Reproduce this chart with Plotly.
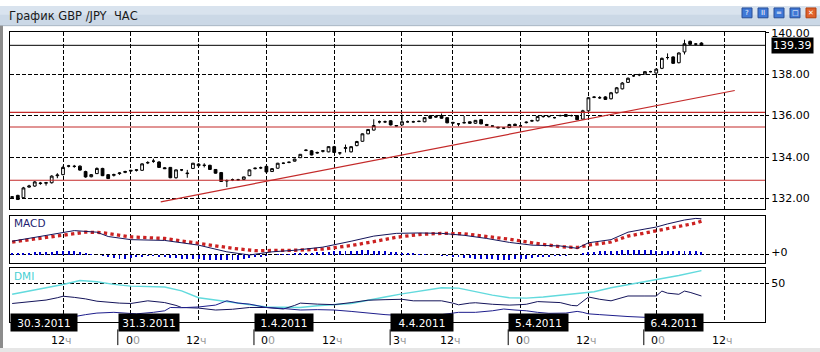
import plotly.graph_objects as go

W, H = 820, 352

# ---------------- data ----------------
bar_index = list(range(123))
open_ = [132.05,132.15,132.04,132.55,132.60,132.72,132.74,132.76,133.10,133.15,
133.56,133.55,133.56,133.30,133.05,133.20,133.45,133.15,133.12,133.20,
133.26,133.36,133.36,133.36,133.72,133.80,133.76,133.48,133.50,133.00,
133.38,133.20,133.45,133.66,133.60,133.60,133.40,133.25,132.85,132.90,
132.90,132.92,133.10,133.44,133.48,133.55,133.30,133.46,133.70,133.74,
133.80,133.97,134.32,134.30,134.22,134.28,134.25,134.50,134.20,134.42,
134.25,134.55,134.76,135.12,135.30,135.70,135.70,135.75,135.52,135.55,
135.70,135.70,135.72,135.70,135.99,135.97,136.00,135.90,135.67,135.60,
135.65,135.70,135.63,135.80,135.57,135.50,135.44,135.40,135.42,135.58,
135.50,135.66,135.74,135.75,135.95,135.95,135.90,136.00,136.05,136.00,
136.00,135.83,136.23,136.88,136.86,136.90,136.81,137.10,137.29,137.60,
137.92,137.97,138.01,138.12,138.05,138.28,138.80,138.83,138.55,139.07,
139.58,139.45,139.50]
high = [132.12,132.18,132.56,132.66,132.84,132.80,132.80,133.12,133.22,133.58,
133.62,133.62,133.60,133.34,133.18,133.50,133.48,133.18,133.20,133.27,
133.34,133.38,133.42,133.70,133.80,133.92,133.80,133.52,133.52,133.40,
133.42,133.38,133.72,133.70,133.70,133.63,133.42,133.28,132.92,132.96,
132.95,133.05,133.40,133.50,133.54,133.58,133.46,133.72,133.74,133.78,
133.92,134.14,134.38,134.34,134.26,134.32,134.52,134.54,134.24,134.60,
134.52,134.78,135.14,135.35,135.82,135.76,135.76,135.78,135.54,136.05,
135.76,135.75,135.76,135.92,136.02,136.00,136.10,135.92,135.70,135.64,
135.98,135.72,135.78,135.82,135.60,135.52,135.46,135.43,135.60,135.62,
135.55,135.72,135.80,135.98,136.00,136.00,135.94,136.04,136.08,136.04,
136.02,136.28,136.90,136.94,136.94,136.94,137.14,137.38,137.62,137.84,
137.98,138.02,138.14,138.16,138.26,138.80,139.00,138.86,139.05,139.66,
139.62,139.50,139.54]
low = [132.00,131.93,132.02,132.52,132.56,132.66,132.62,132.72,132.98,133.12,
133.50,133.48,133.34,133.00,133.02,133.18,133.08,132.94,133.06,133.14,
133.22,133.30,133.30,133.33,133.66,133.72,133.48,133.42,132.98,132.96,
133.32,133.00,133.42,133.56,133.50,133.38,133.20,132.80,132.55,132.84,
132.86,132.90,133.08,133.40,133.42,133.25,133.28,133.44,133.66,133.70,
133.78,133.95,134.28,134.08,134.16,134.22,134.23,134.20,134.10,134.22,
134.22,134.52,134.74,135.10,135.28,135.62,135.64,135.52,135.48,135.52,
135.66,135.66,135.68,135.68,135.85,135.90,135.85,135.63,135.62,135.48,
135.62,135.60,135.60,135.58,135.50,135.46,135.38,135.36,135.40,135.50,
135.46,135.62,135.70,135.72,135.90,135.90,135.86,135.96,135.94,135.96,
135.78,135.80,136.20,136.84,136.80,136.76,136.78,137.06,137.26,137.58,
137.86,137.90,137.98,138.08,138.02,138.24,138.70,138.50,138.52,138.95,
139.40,139.38,139.36]
close = [132.08,131.95,132.51,132.60,132.80,132.74,132.76,133.08,133.13,133.50,
133.57,133.55,133.37,133.04,133.15,133.45,133.10,132.96,133.15,133.23,
133.30,133.33,133.38,133.67,133.73,133.80,133.50,133.44,133.00,133.38,
133.38,133.22,133.70,133.58,133.60,133.40,133.22,132.82,132.86,132.90,
132.90,133.04,133.38,133.46,133.48,133.28,133.44,133.70,133.70,133.75,
133.90,134.13,134.33,134.10,134.20,134.30,134.50,134.22,134.20,134.45,
134.50,134.75,135.12,135.33,135.52,135.70,135.70,135.55,135.50,135.70,
135.70,135.70,135.72,135.90,135.87,135.93,135.87,135.65,135.64,135.60,
135.66,135.63,135.77,135.60,135.53,135.49,135.41,135.40,135.57,135.52,
135.50,135.68,135.75,135.96,135.96,135.96,135.90,136.00,135.96,136.00,
135.80,136.23,136.86,136.89,136.86,136.78,137.10,137.34,137.57,137.80,
137.92,137.97,138.12,138.12,138.24,138.76,138.80,138.52,139.02,139.47,
139.44,139.45,139.39]

price_ticks = [132, 134, 136, 138, 140]
levels = [136.15, 135.45, 132.88]
trend_x = [26.3, 127.9]
trend_y = [131.84, 137.21]

macd_x = [0, 4, 9, 11, 15, 17, 21, 27, 33, 38, 42, 46, 50, 55, 60, 64, 68, 72, 76, 80, 84, 88, 92, 97, 100, 102, 106, 109, 112, 114, 116, 119, 121, 122]
macd = [0.35, 0.45, 0.58, 0.62, 0.58, 0.47, 0.39, 0.37, 0.25, 0.08, 0.0, 0.08, 0.12, 0.20, 0.35, 0.48, 0.55, 0.56, 0.55, 0.50, 0.42, 0.32, 0.25, 0.23, 0.17, 0.31, 0.39, 0.58, 0.66, 0.71, 0.79, 0.89, 0.93, 0.92]
signal_x = [0, 9, 13, 16, 21, 27, 33, 39, 43, 46, 50, 55, 60, 64, 68, 72, 76, 80, 84, 88, 92, 97, 100, 102, 106, 109, 112, 115, 118, 121, 122]
signal = [0.33, 0.50, 0.58, 0.57, 0.46, 0.42, 0.29, 0.17, 0.11, 0.11, 0.12, 0.15, 0.24, 0.34, 0.45, 0.52, 0.55, 0.54, 0.48, 0.40, 0.31, 0.21, 0.19, 0.25, 0.33, 0.48, 0.56, 0.64, 0.73, 0.81, 0.86]
hist = [0.05,0.05,0.06,0.06,0.07,0.07,0.07,0.08,0.09,0.10,0.10,0.09,0.08,0.05,0.03,0.01,
-0.03,-0.06,-0.08,-0.09,-0.09,-0.08,-0.06,-0.04,-0.03,-0.03,-0.04,-0.06,-0.07,-0.08,-0.09,-0.10,-0.10,-0.11,-0.12,-0.12,-0.13,-0.14,-0.14,-0.13,-0.12,-0.10,-0.08,-0.06,-0.04,
-0.02,0.0,0.02,0.03,0.03,0.04,0.05,0.06,0.06,0.07,0.08,0.08,0.09,0.09,0.10,0.11,0.11,0.12,0.12,0.11,0.10,0.09,0.08,0.07,0.06,0.05,0.04,0.03,0.02,0.01,0.0,
-0.02,-0.03,-0.05,-0.06,-0.07,-0.08,-0.09,-0.10,-0.11,-0.11,-0.12,-0.12,-0.12,-0.11,-0.10,-0.09,-0.07,-0.06,-0.05,-0.04,-0.03,-0.02,-0.02,-0.01,
0.01,0.04,0.07,0.08,0.09,0.10,0.10,0.11,0.12,0.13,0.13,0.12,0.12,0.12,0.11,0.11,0.10,0.10,0.10,0.11,0.10,0.09,0.08]

adx_x = [0, 3, 6, 9, 12, 15, 18, 21, 27, 30, 33, 36, 42, 45, 51, 54, 60, 63, 66, 69, 72, 76, 79, 82, 85, 88, 91, 94, 97, 100, 103, 106, 109, 112, 115, 118, 122]
adx = [35.5, 39.5, 44, 48.3, 53.5, 51.8, 48.5, 46.2, 45, 40, 31, 28, 22.7, 19, 18.3, 20.5, 23.5, 28, 32, 36, 39.5, 44, 43.5, 38.8, 34.5, 31, 30.5, 32, 34, 36.3, 38.8, 44, 48, 51.7, 56, 60, 66.3]
pdi_x = [0, 2, 4, 6, 8, 9, 11, 13, 15, 17, 19, 21, 23, 24, 26, 27, 29, 30, 33, 36, 39, 42, 45, 48, 50, 51, 54, 57, 60, 63, 66, 69, 71, 74, 76, 78, 79, 81, 82, 85, 88, 90, 91, 93, 95, 97, 99, 100, 102, 104, 106, 109, 112, 114, 115, 116, 118, 119, 120, 122]
pdi = [23.5, 25, 26, 28, 31, 33, 31.5, 29.5, 26.5, 25, 24, 23.5, 25.5, 27, 25.5, 24.7, 21, 18.3, 17.5, 15, 16, 18.3, 18.3, 16.3, 21, 24, 22.7, 22, 24.7, 27.8, 28.5, 29, 27, 27.5, 27, 24, 21.8, 24, 24.5, 22.5, 21.4, 22, 22.5, 26, 25, 24.7, 21, 20.5, 32, 29, 27, 33.3, 33.3, 33.3, 39.7, 37, 35.5, 39.7, 38, 33.3]
mdi_x = [0, 4, 8, 11, 13, 15, 18, 20, 22, 25, 27, 28, 30, 33, 36, 38, 40, 42, 45, 48, 51, 54, 57, 60, 63, 66, 69, 71, 74, 76, 79, 82, 85, 87, 89, 91, 93, 95, 98, 100, 101, 102, 104, 106, 109, 112, 116, 122]
mdi = [5, 5.5, 6, 6.4, 9, 11, 12, 11, 10, 12, 14, 18.3, 18, 19, 21.4, 27, 24, 22.7, 18.3, 17, 15, 15.5, 15, 13.2, 11, 9, 7.7, 9, 8.5, 9, 12, 12, 14, 16.3, 15, 14, 12, 10.7, 11, 13.2, 12, 10, 9, 7.7, 6.5, 5.5, 5, 4.5]

grid_idx = [9, 21, 33, 45, 57, 69, 78, 90, 102, 114, 126]
hour_digits = ["12", "0", "12", "0", "12", "3", "12", "0", "12", "0", "12"]
hour_suffix = ["ч", "0", "ч", "0", "ч", "ч", "ч", "0", "ч", "0", "ч"]
date_labels = ["30.3.2011", "31.3.2011", "1.4.2011", "4.4.2011", "5.4.2011", "6.4.2011"]
date_start_idx = [-0.38, 18.7, 42.8, 66.9, 87.8, 111.8]

# ---------------- layout helpers ----------------
def px(xp):
    return xp / W

def py(yp):
    return 1 - yp / H

X_RANGE = [-0.38, 133.25]
FONT = "DejaVu Sans"
DASH = "4px,2px"
NAVY1 = "#14145a"
NAVY2 = "#1e1e8c"

fig = go.Figure()

fig.add_trace(go.Candlestick(
    x=bar_index, open=open_, high=high, low=low, close=close,
    increasing=dict(line=dict(color="black", width=1), fillcolor="white"),
    decreasing=dict(line=dict(color="black", width=1), fillcolor="black"),
    whiskerwidth=0, xaxis="x", yaxis="y", hoverinfo="skip"))

fig.add_trace(go.Scatter(x=trend_x, y=trend_y, mode="lines",
                         line=dict(color="#c42a2a", width=1.2), xaxis="x", yaxis="y", hoverinfo="skip"))

fig.add_trace(go.Bar(x=bar_index, y=hist, width=0.35, marker=dict(color="#0000cc", line=dict(width=0)),
                     xaxis="x2", yaxis="y2", hoverinfo="skip"))
fig.add_trace(go.Scatter(x=signal_x, y=signal, mode="lines",
                         line=dict(color="#cc2222", width=3.3, dash="dot"), xaxis="x2", yaxis="y2", hoverinfo="skip"))
fig.add_trace(go.Scatter(x=macd_x, y=macd, mode="lines",
                         line=dict(color=NAVY1, width=1), xaxis="x2", yaxis="y2", hoverinfo="skip"))

fig.add_trace(go.Scatter(x=adx_x, y=adx, mode="lines",
                         line=dict(color="#62dadd", width=1.4), xaxis="x3", yaxis="y3", hoverinfo="skip"))
fig.add_trace(go.Scatter(x=pdi_x, y=pdi, mode="lines",
                         line=dict(color=NAVY1, width=1), xaxis="x3", yaxis="y3", hoverinfo="skip"))
fig.add_trace(go.Scatter(x=mdi_x, y=mdi, mode="lines",
                         line=dict(color=NAVY2, width=1), xaxis="x3", yaxis="y3", hoverinfo="skip"))

xdom = [px(10), px(765)]
common_x = dict(range=X_RANGE, domain=xdom, showline=True, mirror=True, linecolor="black", linewidth=1,
                tickmode="array", tickvals=grid_idx, showticklabels=False, ticks="",
                showgrid=True, gridcolor="black", gridwidth=1, griddash=DASH, zeroline=False, fixedrange=True)
common_y = dict(side="right", showline=True, mirror=True, linecolor="black", linewidth=1,
                ticks="outside", ticklen=3, tickcolor="black", showgrid=True, gridcolor="black",
                gridwidth=1, griddash=DASH, zeroline=False, fixedrange=True,
                tickfont=dict(family=FONT, size=11, color="black"))

fig.update_layout(
    width=W, height=H, margin=dict(l=0, r=0, t=0, b=0),
    paper_bgcolor="white", plot_bgcolor="white", showlegend=False,
    font=dict(family=FONT, size=11, color="black"),
    xaxis=dict(anchor="y", rangeslider=dict(visible=False), **common_x),
    xaxis2=dict(anchor="y2", matches="x", **common_x),
    xaxis3=dict(anchor="y3", matches="x", **common_x),
    yaxis=dict(anchor="x", domain=[py(207), py(26.5)], range=[131.47, 140.03],
               tickvals=price_ticks, ticktext=[f"{v:.2f}" for v in price_ticks], **common_y),
    yaxis2=dict(anchor="x2", domain=[py(261), py(214)], range=[-0.1925, 0.9825],
                tickvals=[0], ticktext=["+0"], ticklabelshift=-3, **common_y),
    yaxis3=dict(anchor="x3", domain=[py(321), py(267)], range=[0, 69.2],
                tickvals=[50], ticktext=["50"], **common_y),
    bargap=0,
)

shapes = []
# window chrome
shapes.append(dict(type="rect", xref="paper", yref="paper", x0=0, x1=1, y0=py(20), y1=1,
                   fillcolor="#cbd8e6", line=dict(width=0), layer="below"))
shapes.append(dict(type="rect", xref="paper", yref="paper", x0=0, x1=1, y0=py(9), y1=1,
                   fillcolor="#d9e3ee", line=dict(width=0), layer="below"))
shapes.append(dict(type="line", xref="paper", yref="paper", x0=0, x1=1, y0=py(20), y1=py(20),
                   line=dict(color="#a9b6c4", width=1)))
shapes.append(dict(type="rect", xref="paper", yref="paper", x0=0, x1=px(3), y0=0, y1=py(20),
                   fillcolor="#8c8c8c", line=dict(width=0)))
shapes.append(dict(type="rect", xref="paper", yref="paper", x0=0, x1=1, y0=0, y1=py(348),
                   fillcolor="#e6e6e6", line=dict(width=0)))
# level lines and current price
for lv in levels:
    shapes.append(dict(type="line", xref="x domain", yref="y", x0=0, x1=1, y0=lv, y1=lv,
                       line=dict(color="#c42a2a", width=1.2)))
shapes.append(dict(type="line", xref="x domain", yref="y", x0=0, x1=1, y0=close[-1], y1=close[-1],
                   line=dict(color="black", width=1)))
# day separators under date boxes
for d in date_start_idx[1:]:
    shapes.append(dict(type="line", xref="x3", yref="paper", x0=d, x1=d, y0=py(345), y1=py(329),
                       line=dict(color="black", width=1)))
# title-bar buttons
btn_left = [742, 758, 774, 790, 806]
btn_sym = ["?", "II", "=", "□", "✕"]
for i, bx in enumerate(btn_left):
    col = "#e0612a" if i == 4 else "#3f78d6"
    shapes.append(dict(type="rect", xref="paper", yref="paper", x0=px(bx), x1=px(bx + 10),
                       y0=py(12), y1=py(2), fillcolor=col, line=dict(color="#2a4f96" if i < 4 else "#b04010", width=1)))

annotations = []
annotations.append(dict(text="График GBP /JPY  ЧАС", xref="paper", yref="paper", x=px(7), y=py(10.5),
                        xanchor="left", yanchor="middle", showarrow=False,
                        font=dict(family=FONT, size=11.5, color="#1a1a1a")))
for i, bx in enumerate(btn_left):
    annotations.append(dict(text=btn_sym[i], xref="paper", yref="paper", x=px(bx + 5), y=py(7),
                            xanchor="center", yanchor="middle", showarrow=False,
                            font=dict(family=FONT, size=7, color="white")))
annotations.append(dict(text="MACD", xref="paper", yref="paper", x=px(12), y=py(221),
                        xanchor="left", yanchor="middle", showarrow=False,
                        font=dict(family=FONT, size=10.5, color="#1c1c70")))
annotations.append(dict(text="DMI", xref="paper", yref="paper", x=px(12), y=py(275),
                        xanchor="left", yanchor="middle", showarrow=False,
                        font=dict(family=FONT, size=10.5, color="#45cfd3")))
annotations.append(dict(text=f"{close[-1]:.2f}", xref="paper", yref="y", x=px(771), y=close[-1],
                        xanchor="left", yanchor="middle", showarrow=False, bgcolor="black",
                        borderpad=1, font=dict(family=FONT, size=11, color="white")))
box_w = [64, 58, 56, 60, 57, 56]
for i, (lab, d) in enumerate(zip(date_labels, date_start_idx)):
    annotations.append(dict(text=lab, xref="x3", yref="paper", x=d, y=py(321.5),
                            xanchor="left", yanchor="middle", showarrow=False, bgcolor="black",
                            width=box_w[i], height=15, borderpad=1, align="center",
                            font=dict(family=FONT, size=10.5, color="white")))
for g, dg, sf in zip(grid_idx, hour_digits, hour_suffix):
    annotations.append(dict(text=f"{dg}<span style='color:#9a9a9a'>{sf}</span>", xref="x3", yref="paper",
                            x=g, y=py(340), xanchor="center", yanchor="middle", showarrow=False,
                            xshift=-2 if sf == "ч" else 2,
                            font=dict(family=FONT, size=11, color="black")))

fig.update_layout(shapes=shapes, annotations=annotations)
fig.write_html("out.html", config={"displayModeBar": False, "staticPlot": True})
